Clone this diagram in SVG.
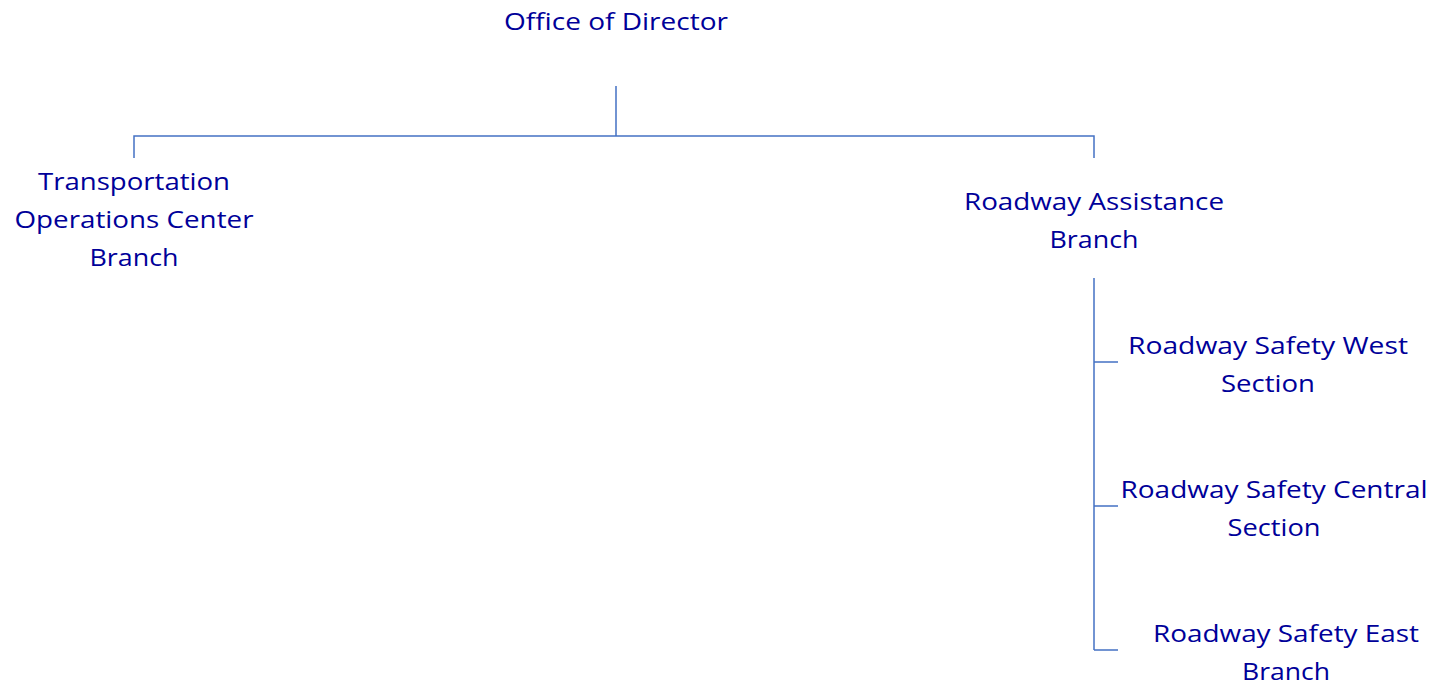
<svg xmlns="http://www.w3.org/2000/svg" width="1439" height="684" viewBox="0 0 1439 684">
<style>
.t{font-family:"Open Sans","Noto Sans",sans-serif;font-size:24px;fill:#000099;text-anchor:middle}
.c{stroke:#4472C4;stroke-width:1.5;fill:none}
</style>
<rect width="1439" height="684" fill="#ffffff"/>
<g id="connectors" class="c">
<path d="M616 86V136M134 158V136H1094V158"/>
<path d="M1094 278V650M1094 362H1118M1094 506H1118M1094 650H1118"/>
</g>
<g id="director"><text class="t" x="616" y="30" textLength="224" lengthAdjust="spacingAndGlyphs">Office of Director</text></g>
<g id="toc">
<text class="t" x="134" y="190" textLength="192" lengthAdjust="spacingAndGlyphs">Transportation</text>
<text class="t" x="134" y="228" textLength="239" lengthAdjust="spacingAndGlyphs">Operations Center</text>
<text class="t" x="134" y="266" textLength="89" lengthAdjust="spacingAndGlyphs">Branch</text>
</g>
<g id="rab">
<text class="t" x="1094" y="210" textLength="260" lengthAdjust="spacingAndGlyphs">Roadway Assistance</text>
<text class="t" x="1094" y="248" textLength="89" lengthAdjust="spacingAndGlyphs">Branch</text>
</g>
<g id="west">
<text class="t" x="1268" y="354" textLength="280" lengthAdjust="spacingAndGlyphs">Roadway Safety West</text>
<text class="t" x="1268" y="392" textLength="94" lengthAdjust="spacingAndGlyphs">Section</text>
</g>
<g id="central">
<text class="t" x="1274" y="498" textLength="307" lengthAdjust="spacingAndGlyphs">Roadway Safety Central</text>
<text class="t" x="1274" y="536" textLength="93" lengthAdjust="spacingAndGlyphs">Section</text>
</g>
<g id="east">
<text class="t" x="1286" y="642" textLength="266" lengthAdjust="spacingAndGlyphs">Roadway Safety East</text>
<text class="t" x="1286" y="680" textLength="88" lengthAdjust="spacingAndGlyphs">Branch</text>
</g>
</svg>
